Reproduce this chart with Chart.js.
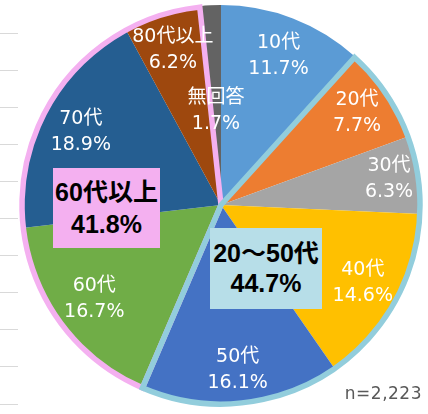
<!DOCTYPE html>
<html>
<head>
<meta charset="utf-8">
<script src="https://cdn.jsdelivr.net/npm/chart.js@4.4.1/dist/chart.umd.min.js"></script>
<style>
  html, body { margin: 0; padding: 0; background: #fff; }
  #wrap { position: relative; width: 428px; height: 414px; overflow: hidden; }
  #grilla { position: absolute; left: 0; top: 32px; }
  #torta { position: absolute; left: 0; top: 0; }
  .caja {
    position: absolute; text-align: center; color: #000;
    font-family: "Liberation Sans", "Noto Sans CJK JP", sans-serif;
    font-weight: bold; font-size: 25px; white-space: nowrap;
  }
  #caja60 { left: 53px; top: 168px; width: 107px; height: 80px; line-height: 32px; padding-top: 8px; box-sizing: border-box; background: #f4b0f0; }
  #caja2050 { left: 210px; top: 228px; width: 112px; height: 81px; line-height: 30px; padding-top: 10px; box-sizing: border-box; background: #b7dee8; }
  #muestra {
    position: absolute; right: 6px; top: 383px; color: #595959;
    font-family: "DejaVu Sans", sans-serif; font-size: 17px; letter-spacing: 0.5px;
  }
</style>
</head>
<body>
<div id="wrap">
  <canvas id="grilla" width="18" height="373"></canvas>
  <canvas id="torta" width="428" height="414"></canvas>
  <div class="caja" id="caja60"></div>
  <div class="caja" id="caja2050"></div>
  <div id="muestra"></div>
</div>
<script>
// datos
const categorias = ['10代', '20代', '30代', '40代', '50代', '60代', '70代', '80代以上', '無回答'];
const porcentajes = [11.7, 7.7, 6.3, 14.6, 16.1, 16.7, 18.9, 6.2, 1.7];
const grupos = ['20～50代', '60代以上'];
const porcentajesGrupo = [44.7, 41.8];
const indicesGrupo = [[1, 4], [5, 7]];   // primer y ultimo indice de cada grupo
const muestra = 'n=2,223';
const lineasGrilla = [0, 1, 2, 3, 4, 5, 6, 7, 8, 9, 10];

const colores = ['#5b9bd5', '#ed7d31', '#a5a5a5', '#ffc000', '#4472c4', '#70ad47', '#255e91', '#9e480e', '#636363'];
const coloresGrupo = ['#92cddc', '#f4b0f0'];
// radio relativo de cada etiqueta (el de "無回答" esta movido hacia adentro)
const radioEtiqueta = [0.8, 0.82, 0.85, 0.81, 0.83, 0.79, 0.79, 0.81, 0.47];

document.getElementById('caja60').innerHTML = grupos[1] + '<br>' + porcentajesGrupo[1] + '%';
document.getElementById('caja2050').innerHTML = grupos[0] + '<br>' + porcentajesGrupo[0] + '%';
document.getElementById('muestra').textContent = muestra;

// lineas grises del fondo, a la izquierda
new Chart(document.getElementById('grilla'), {
    type: 'line',
    data: { labels: ['a', 'b'], datasets: [{ data: [] }] },
    options: {
        responsive: false,
        animation: false,
        layout: { padding: { top: 1, bottom: 1, left: 0, right: 0 } },
        plugins: { legend: { display: false }, tooltip: { enabled: false } },
        scales: {
            x: { display: false },
            y: {
                min: lineasGrilla[0],
                max: lineasGrilla[lineasGrilla.length - 1],
                ticks: { display: false, stepSize: 1 },
                grid: { color: '#d9d9d9', drawTicks: false },
                border: { display: false }
            }
        }
    }
});

// contorno de los grupos
const pluginGrupos = {
    id: 'contornoGrupos',
    afterDatasetsDraw(chart) {
        const ctx = chart.ctx;
        const arcos = chart.getDatasetMeta(0).data;
        // primero el rosa, luego el celeste encima
        for (let g = indicesGrupo.length - 1; g >= 0; g--) {
            const a = arcos[indicesGrupo[g][0]].getProps(['x', 'y', 'startAngle', 'outerRadius'], true);
            const b = arcos[indicesGrupo[g][1]].getProps(['endAngle'], true);
            ctx.save();
            ctx.beginPath();
            ctx.moveTo(a.x, a.y);
            ctx.arc(a.x, a.y, a.outerRadius - 1, a.startAngle, b.endAngle);
            ctx.closePath();
            ctx.lineWidth = 5.5;
            ctx.lineJoin = 'miter';
            ctx.strokeStyle = coloresGrupo[g];
            ctx.stroke();
            ctx.restore();
        }
    }
};

// etiquetas de cada porcion
const pluginEtiquetas = {
    id: 'etiquetas',
    afterDatasetsDraw(chart) {
        const ctx = chart.ctx;
        const arcos = chart.getDatasetMeta(0).data;
        ctx.save();
        ctx.fillStyle = '#ffffff';
        ctx.font = '19px "DejaVu Sans", "Noto Sans CJK JP", sans-serif';
        ctx.textAlign = 'center';
        ctx.textBaseline = 'middle';
        arcos.forEach((arco, i) => {
            const p = arco.getProps(['x', 'y', 'startAngle', 'endAngle', 'outerRadius'], true);
            const medio = (p.startAngle + p.endAngle) / 2;
            const r = p.outerRadius * radioEtiqueta[i];
            const x = p.x + Math.cos(medio) * r;
            const y = p.y + Math.sin(medio) * r;
            ctx.fillText(categorias[i], x, y - 13);
            ctx.fillText(porcentajes[i].toFixed(1) + '%', x, y + 13);
        });
        ctx.restore();
    }
};

new Chart(document.getElementById('torta'), {
    type: 'pie',
    data: {
        labels: categorias,
        datasets: [{
            data: porcentajes,
            backgroundColor: colores,
            borderWidth: 0
        }]
    },
    options: {
        responsive: false,
        animation: false,
        layout: { padding: { left: 21, right: 7, top: 5, bottom: 9 } },
        plugins: { legend: { display: false }, tooltip: { enabled: false } }
    },
    plugins: [pluginGrupos, pluginEtiquetas]
});
</script>
</body>
</html>
